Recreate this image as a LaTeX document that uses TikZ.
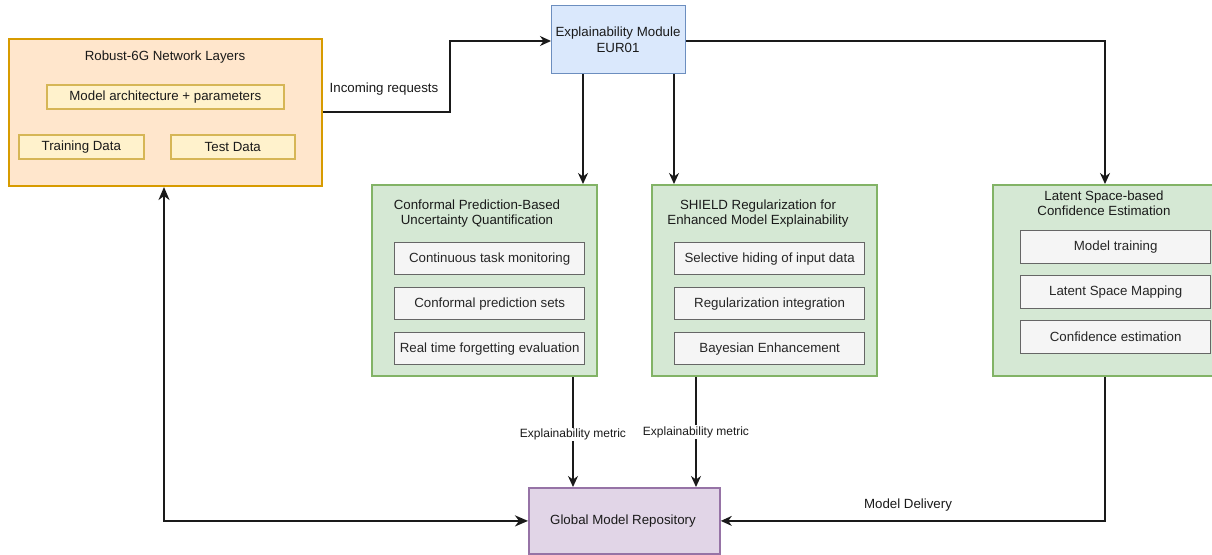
\documentclass[tikz,border=0pt]{standalone}
\usepackage{fontspec}
\setmainfont{Liberation Sans}
\usetikzlibrary{arrows.meta}
\definecolor{orfill}{HTML}{FFE6CC}
\definecolor{ordraw}{HTML}{D79B00}
\definecolor{yefill}{HTML}{FFF2CC}
\definecolor{yedraw}{HTML}{D6B656}
\definecolor{blfill}{HTML}{DAE8FC}
\definecolor{bldraw}{HTML}{6C8EBF}
\definecolor{grfill}{HTML}{D5E8D4}
\definecolor{grdraw}{HTML}{82B366}
\definecolor{gyfill}{HTML}{F5F5F5}
\definecolor{gydraw}{HTML}{666666}
\definecolor{pufill}{HTML}{E1D5E7}
\definecolor{pudraw}{HTML}{9673A6}
\definecolor{ink}{HTML}{1A1A1A}
\begin{document}
\begin{tikzpicture}[x=1pt,y=-1pt,
  txt/.style={inner sep=0, text=ink, font=\fontsize{13.3}{15}\selectfont, align=center},
  frame/.style={draw, line width=2pt, inner sep=0, anchor=north west},
  item/.style={draw, line width=1.6pt, inner sep=0, anchor=north west, text=ink,
    font=\fontsize{13.3}{15}\selectfont, align=center},
  gitem/.style={item, line width=1.3pt, fill=gyfill, draw=gydraw, text=black!85, minimum width=190, minimum height=32},
  lbl/.style={inner sep=1pt, fill=white, text=ink, font=\fontsize{12}{14}\selectfont},
  link/.style={draw=ink, line width=1.4pt, -{Stealth[length=11pt,width=10pt,inset=3.5pt]}},
  biglink/.style={draw=ink, line width=2.8pt,
    {Stealth[length=13pt,width=11pt,inset=4pt]}-{Stealth[length=13pt,width=11pt,inset=4pt]}}
]
\clip (0,0) rectangle (1212,554);
\fill[white] (0,0) rectangle (1212,554);

% Robust-6G network layers
\node[frame, fill=orfill, draw=ordraw, minimum width=313, minimum height=147] (rob) at (8,38) {};
\node[txt] (robt) at (165,57) {Robust-6G Network Layers};
\node[item, fill=yefill, draw=yedraw, minimum width=237, minimum height=24] (arch) at (46,84) {Model architecture + parameters};
\node[item, fill=yefill, draw=yedraw, minimum width=125, minimum height=24] (train) at (18,134) {Training Data};
\node[item, fill=yefill, draw=yedraw, minimum width=124, minimum height=24] (test) at (170,134) {Test Data};

% Explainability module
\node[frame, line width=1.4pt, fill=blfill, draw=bldraw, minimum width=134, minimum height=68] (expl) at (551,5) {};
\node[txt] (explt) at (618,40) {Explainability Module\\[1pt]EUR01};

% Conformal prediction block
\node[frame, fill=grfill, draw=grdraw, minimum width=225, minimum height=191] (cp) at (371,184) {};
\node[txt] (cpt) at (477,214) {Conformal Prediction-Based\\Uncertainty Quantification};
\node[gitem] (cp1) at (394,242) {Continuous task monitoring};
\node[gitem] (cp2) at (394,287) {Conformal prediction sets};
\node[gitem] (cp3) at (394,332) {Real time forgetting evaluation};

% SHIELD block
\node[frame, fill=grfill, draw=grdraw, minimum width=225, minimum height=191] (sh) at (651,184) {};
\node[txt] (sht) at (758,214) {SHIELD Regularization for\\Enhanced Model Explainability};
\node[gitem] (sh1) at (674,242) {Selective hiding of input data};
\node[gitem] (sh2) at (674,287) {Regularization integration};
\node[gitem] (sh3) at (674,332) {Bayesian Enhancement};

% Latent space block
\node[frame, fill=grfill, draw=grdraw, minimum width=232, minimum height=191] (ls) at (992,184) {};
\node[txt] (lst) at (1104,203) {Latent Space-based\\Confidence Estimation};
\node[gitem, minimum height=33] (ls1) at (1020,230) {Model training};
\node[gitem, minimum height=33] (ls2) at (1020,275) {Latent Space Mapping};
\node[gitem, minimum height=33] (ls3) at (1020,320) {Confidence estimation};

% Global model repository
\node[frame, line width=1.8pt, fill=pufill, draw=pudraw, minimum width=191, minimum height=66] (gmr) at (528,487) {};
\node[txt] (gmrt) at (623,521) {Global Model Repository};

% Connectors
\coordinate (inbend) at (450,112);
\coordinate (intop) at (450,41);
\draw[link] (rob.east |- inbend) -- (inbend) -- (intop) -- (expl.west |- intop);
\node[txt] (inl) at (384,89) {Incoming requests};

\draw[link] (expl.south -| 583,0) -- (cp.north -| 583,0);
\draw[link] (expl.south -| 674,0) -- (sh.north -| 674,0);
\coordinate (lsbend) at (1105,41);
\draw[link] (expl.east |- lsbend) -- (lsbend) -- (ls.north -| lsbend);

\draw[link] (cp.south -| 573,0) -- node[lbl, pos=0.52] {Explainability metric} (gmr.north -| 573,0);
\draw[link] (sh.south -| 696,0) -- node[lbl, pos=0.5] {Explainability metric} (gmr.north -| 696,0);

\draw[link] (ls.south -| 1105,0) |- (gmr.east);
\node[txt] (mdl) at (908,505) {Model Delivery};

\draw[biglink] (rob.south -| 164,0) |- (gmr.west);
\end{tikzpicture}
\end{document}
